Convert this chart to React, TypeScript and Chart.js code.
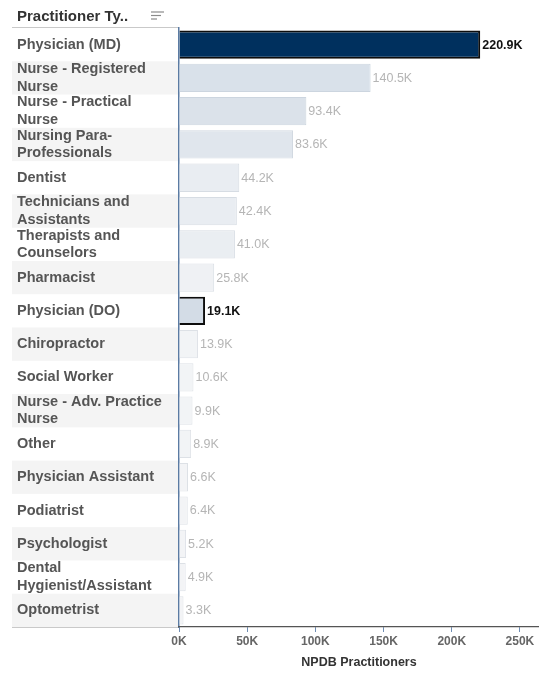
import React, { useEffect, useRef } from 'react';
import { Chart, registerables } from 'chart.js';

Chart.register(...registerables);

const FONT = '"Liberation Sans", Arial, sans-serif';

// ---- data ----
const categories: (string | string[])[] = [
  'Physician (MD)',
  ['Nurse - Registered', 'Nurse'],
  ['Nurse - Practical', 'Nurse'],
  ['Nursing Para-', 'Professionals'],
  'Dentist',
  ['Technicians and', 'Assistants'],
  ['Therapists and', 'Counselors'],
  'Pharmacist',
  'Physician (DO)',
  'Chiropractor',
  'Social Worker',
  ['Nurse - Adv. Practice', 'Nurse'],
  'Other',
  'Physician Assistant',
  'Podiatrist',
  'Psychologist',
  ['Dental', 'Hygienist/Assistant'],
  'Optometrist',
];
const practitioners = [
  220900, 140500, 93400, 83600, 44200, 42400, 41000, 25800, 19100, 13900, 10600, 9900, 8900, 6600,
  6400, 5200, 4900, 3300,
];
const xTickValues = [0, 50000, 100000, 150000, 200000, 250000];
const selectedIdx = [0, 8];
const headerText = 'Practitioner Ty..';
const axisTitle = 'NPDB Practitioners';

// ---- styles (separate from data) ----
const barFills = [
  '#00305e', '#d9e1ea', '#dbe2ea', '#e0e6ed', '#e9edf2', '#e9edf2', '#eaeef2', '#eff1f4',
  '#d3dce6', '#f2f4f6', '#f2f4f6', '#f2f4f6', '#f2f4f6', '#f3f4f6', '#f3f4f6', '#f3f4f6',
  '#f3f4f6', '#f3f4f6',
];
const barBorders = [
  '#0d0d0d', '#ccd5df', '#ccd5df', '#d2d9e1', '#d6dce3', '#d6dce3', '#d6dce3', '#dadfe5',
  '#0d0d0d', '#dde1e6', '#dde1e6', '#dde1e6', '#dde1e6', '#dde1e6', '#dde1e6', '#dde1e6',
  '#dde1e6', '#dde1e6',
];
const barBorderWidths = [2, 1, 1, 1, 1, 1, 1, 1, 2, 1, 1, 1, 1, 1, 1, 1, 1, 1];

const fmtK = (v: number) => (v / 1000).toFixed(1) + 'K';

const decorPlugin = {
  id: 'decor',
  beforeDraw(chart: any) {
    const { ctx, chartArea, scales } = chart;
    const y = scales.y;
    ctx.save();
    ctx.fillStyle = '#ffffff';
    ctx.fillRect(0, 0, chart.width, chart.height);
    const n = categories.length;
    const rowH = (chartArea.bottom - chartArea.top) / n;
    const bandLeft = 12;
    for (let i = 1; i < n; i += 2) {
      const c = y.getPixelForValue(i);
      ctx.fillStyle = '#f4f4f4';
      ctx.fillRect(bandLeft, c - rowH / 2, chartArea.left - bandLeft, rowH);
    }
    // header
    ctx.fillStyle = '#333333';
    ctx.font = 'bold 15px ' + FONT;
    ctx.textBaseline = 'alphabetic';
    ctx.textAlign = 'left';
    ctx.fillText(headerText, 17, 21);
    // sort icon
    ctx.strokeStyle = '#8a8a8a';
    ctx.lineWidth = 1.2;
    const ix = 151;
    [[12, 13], [15.5, 10], [19, 6]].forEach(([yy, len]) => {
      ctx.beginPath();
      ctx.moveTo(ix, yy);
      ctx.lineTo(ix + len, yy);
      ctx.stroke();
    });
    // header underline & label column bottom line
    ctx.strokeStyle = '#c9c9c9';
    ctx.lineWidth = 1;
    ctx.beginPath();
    ctx.moveTo(bandLeft, chartArea.top - 0.5);
    ctx.lineTo(chartArea.left, chartArea.top - 0.5);
    ctx.moveTo(bandLeft, chartArea.bottom + 0.5);
    ctx.lineTo(chartArea.left, chartArea.bottom + 0.5);
    ctx.stroke();
    ctx.restore();
  },
  afterDatasetsDraw(chart: any) {
    const { ctx } = chart;
    const meta = chart.getDatasetMeta(0);
    ctx.save();
    ctx.textBaseline = 'middle';
    ctx.textAlign = 'left';
    meta.data.forEach((bar: any, i: number) => {
      const sel = selectedIdx.includes(i);
      ctx.font = (sel ? 'bold ' : '') + '12.5px ' + FONT;
      ctx.fillStyle = sel ? '#111111' : '#b5b5b5';
      ctx.fillText(fmtK(practitioners[i]), bar.x + 2, bar.y + 0.5);
    });
    ctx.restore();
  },
};

export default function App() {
  const ref = useRef<HTMLCanvasElement | null>(null);
  useEffect(() => {
    if (!ref.current) return;
    const chart = new Chart(ref.current, {
      type: 'bar',
      data: {
        labels: categories as any,
        datasets: [
          {
            data: practitioners,
            backgroundColor: barFills,
            borderColor: barBorders,
            borderWidth: barBorderWidths,
            barPercentage: 0.85,
            categoryPercentage: 1,
          },
        ],
      },
      options: {
        indexAxis: 'y',
        responsive: false,
        animation: false,
        layout: { padding: { left: 17, top: 28, right: 0, bottom: 0 } },
        plugins: { legend: { display: false }, tooltip: { enabled: false }, title: { display: false } },
        scales: {
          y: {
            grid: { display: false },
            border: { display: true, color: '#5b7ba3', width: 1.5 },
            ticks: {
              crossAlign: 'far',
              color: '#555555',
              font: { family: FONT, size: 14.5, weight: 'bold', lineHeight: 1.2 },
              autoSkip: false,
            },
            afterFit: (s: any) => {
              s.width = 162;
            },
          },
          x: {
            min: 0,
            max: 264000,
            grid: { drawOnChartArea: false, drawTicks: true, tickLength: 5, color: '#6f8db3' },
            border: { display: true, color: '#555555', width: 1.2 },
            ticks: {
              color: '#666666',
              padding: 2,
              font: { family: FONT, size: 12, weight: 'bold' },
              callback: (v: any) => Number(v) / 1000 + 'K',
            },
            afterBuildTicks: (s: any) => {
              s.ticks = xTickValues.map((v) => ({ value: v }));
            },
            title: {
              display: true,
              text: axisTitle,
              color: '#333333',
              font: { family: FONT, size: 12.5, weight: 'bold' },
              padding: { top: 0, bottom: 3 },
            },
            afterFit: (s: any) => {
              s.height = 46;
            },
          },
        },
      },
      plugins: [decorPlugin],
    });
    return () => chart.destroy();
  }, []);
  return (
    <div style={{ position: 'fixed', left: 0, top: 0, width: 539, height: 673, background: '#fff' }}>
      <canvas ref={ref} width={539} height={673} style={{ display: 'block', width: 539, height: 673 }} />
    </div>
  );
}
